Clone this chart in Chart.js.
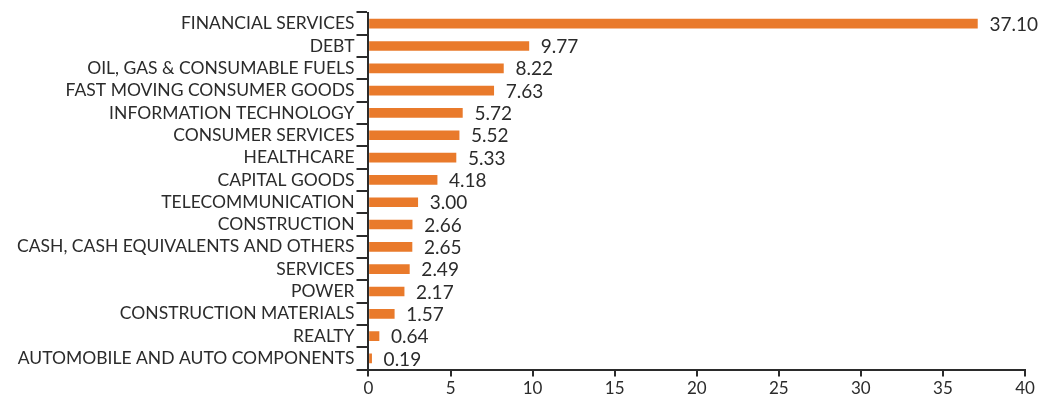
<!DOCTYPE html>
<html>
<head>
<meta charset="utf-8">
<script src="https://cdn.jsdelivr.net/npm/chart.js@4.4.1/dist/chart.umd.min.js"></script>
<style>
  html, body { margin: 0; padding: 0; background: #fff; }
  #wrap { width: 1039px; height: 401px; position: relative; }
</style>
</head>
<body>
<div id="wrap"><canvas id="sectorChart"></canvas></div>
<script>
const sectors = [
    'FINANCIAL SERVICES',
    'DEBT',
    'OIL, GAS & CONSUMABLE FUELS',
    'FAST MOVING CONSUMER GOODS',
    'INFORMATION TECHNOLOGY',
    'CONSUMER SERVICES',
    'HEALTHCARE',
    'CAPITAL GOODS',
    'TELECOMMUNICATION',
    'CONSTRUCTION',
    'CASH, CASH EQUIVALENTS AND OTHERS',
    'SERVICES',
    'POWER',
    'CONSTRUCTION MATERIALS',
    'REALTY',
    'AUTOMOBILE AND AUTO COMPONENTS'
];
const weights = [37.10, 9.77, 8.22, 7.63, 5.72, 5.52, 5.33, 4.18, 3.00, 2.66, 2.65, 2.49, 2.17, 1.57, 0.64, 0.19];
const xTicks = [0, 5, 10, 15, 20, 25, 30, 35, 40];

const orange = '#E97A2B';
const inkColor = '#2b2b2b';
const fontFamily = 'Lato, "DejaVu Sans", sans-serif';

// draws the value next to each bar
const valueLabels = {
    id: 'valueLabels',
    afterDatasetsDraw(chart) {
        const c = chart.ctx;
        const meta = chart.getDatasetMeta(0);
        c.save();
        c.font = '19px ' + fontFamily;
        c.fillStyle = inkColor;
        c.textBaseline = 'middle';
        c.textAlign = 'left';
        meta.data.forEach((bar, i) => {
            c.fillText(weights[i].toFixed(2), bar.x + 12, bar.y + 1);
        });
        c.restore();
    }
};

var ctx = document.getElementById('sectorChart').getContext('2d');

var sectorChart = new Chart(ctx, { //eslint-disable-line
    type: 'bar',
    data: {
        labels: sectors,
        datasets: [
            {
                data: weights,
                backgroundColor: orange,
                borderWidth: 0,
                barThickness: 9
            }
        ]
    },
    options: {
        indexAxis: 'y',
        responsive: true,
        maintainAspectRatio: false,
        animation: false,
        layout: { padding: { left: 15, right: 14, top: 11, bottom: 0 } },
        plugins: {
            legend: { display: false },
            tooltip: { enabled: false }
        },
        scales: {
            x: {
                min: 0,
                max: 40,
                afterBuildTicks(axis) {
                    axis.ticks = xTicks.map(v => ({ value: v }));
                },
                border: { color: inkColor, width: 2 },
                grid: {
                    drawOnChartArea: false,
                    drawTicks: true,
                    tickLength: 7,
                    color: inkColor,
                    lineWidth: 2
                },
                ticks: {
                    color: inkColor,
                    font: { family: fontFamily, size: 17 },
                    padding: 2,
                    maxRotation: 0
                }
            },
            y: {
                border: { color: inkColor, width: 2 },
                grid: {
                    offset: true,
                    drawOnChartArea: false,
                    drawTicks: true,
                    tickLength: 12,
                    color: inkColor,
                    lineWidth: 2
                },
                ticks: {
                    color: inkColor,
                    font: { family: fontFamily, size: 17.5 },
                    padding: 2,
                    autoSkip: false
                }
            }
        }
    },
    plugins: [valueLabels]
});
</script>
</body>
</html>
